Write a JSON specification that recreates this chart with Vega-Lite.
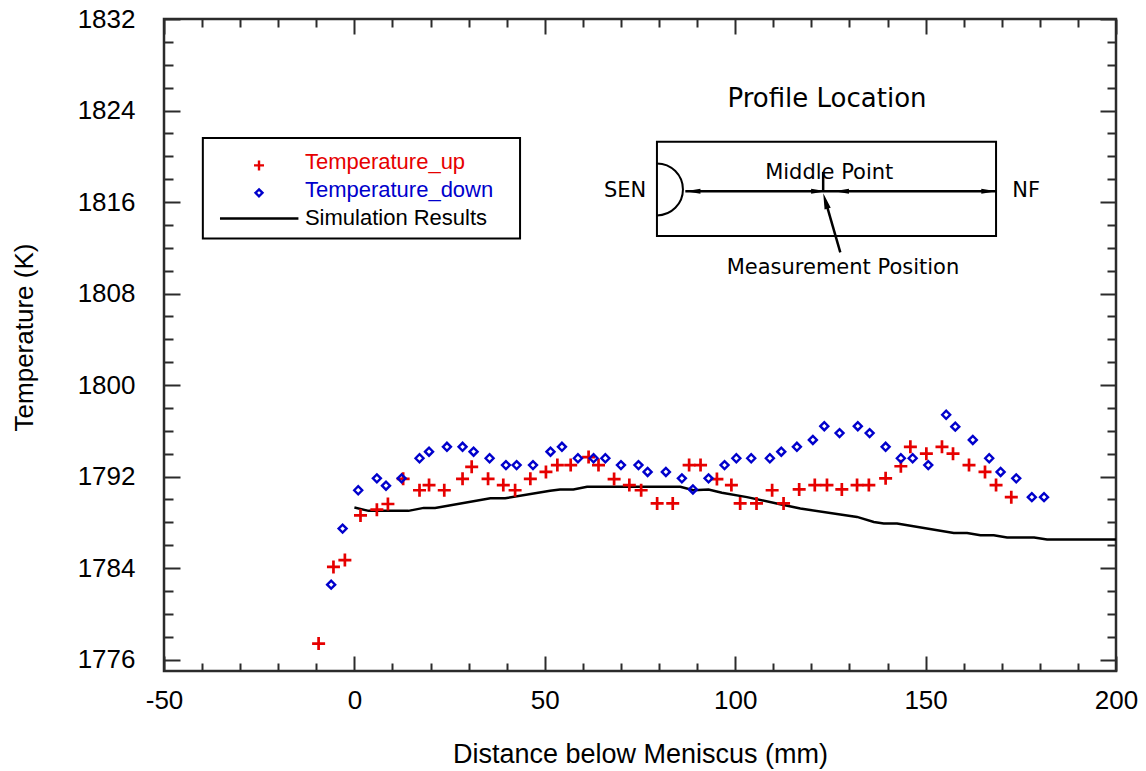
{
  "$schema": "https://vega.github.io/schema/vega-lite/v6.json",
  "width": 952,
  "height": 652,
  "autosize": {"type": "none"},
  "padding": {"left": 164, "top": 19, "right": 30, "bottom": 100},
  "background": "white",
  "config": {"view": {"stroke": "#2b2b2b", "strokeWidth": 2.5}, "axis": {"grid": false}},
  "resolve": {"axis": {"x": "independent", "y": "independent"}},
  "datasets": {
    "up": [
      {"x": -9.4, "y": 1777.4}, {"x": -5.5, "y": 1784.1}, {"x": -2.5, "y": 1784.7}, {"x": 1.6, "y": 1788.6},
      {"x": 5.9, "y": 1789.1}, {"x": 8.8, "y": 1789.6}, {"x": 12.8, "y": 1791.8}, {"x": 17.1, "y": 1790.8},
      {"x": 19.6, "y": 1791.25}, {"x": 23.6, "y": 1790.8}, {"x": 28.4, "y": 1791.8}, {"x": 30.8, "y": 1792.85},
      {"x": 35.1, "y": 1791.8}, {"x": 39.1, "y": 1791.25}, {"x": 42.2, "y": 1790.8}, {"x": 46.2, "y": 1791.8},
      {"x": 50.3, "y": 1792.4}, {"x": 53.3, "y": 1793.0}, {"x": 56.8, "y": 1793.0}, {"x": 61.5, "y": 1793.7},
      {"x": 64.1, "y": 1793.0}, {"x": 68.2, "y": 1791.78}, {"x": 72.2, "y": 1791.25}, {"x": 75.3, "y": 1790.8},
      {"x": 79.5, "y": 1789.65}, {"x": 83.6, "y": 1789.65}, {"x": 87.9, "y": 1793.0}, {"x": 90.9, "y": 1793.0},
      {"x": 95.2, "y": 1791.78}, {"x": 99.0, "y": 1791.25}, {"x": 101.3, "y": 1789.65}, {"x": 105.6, "y": 1789.65},
      {"x": 109.7, "y": 1790.8}, {"x": 112.7, "y": 1789.65}, {"x": 116.8, "y": 1790.87}, {"x": 120.9, "y": 1791.25},
      {"x": 124.1, "y": 1791.25}, {"x": 128.0, "y": 1790.87}, {"x": 132.0, "y": 1791.25}, {"x": 135.1, "y": 1791.25},
      {"x": 139.5, "y": 1791.84}, {"x": 143.5, "y": 1792.9}, {"x": 146.0, "y": 1794.6}, {"x": 150.2, "y": 1794.0},
      {"x": 154.3, "y": 1794.6}, {"x": 157.2, "y": 1794.0}, {"x": 161.4, "y": 1793.0}, {"x": 165.6, "y": 1792.4},
      {"x": 168.5, "y": 1791.25}, {"x": 172.5, "y": 1790.2}
    ],
    "down": [
      {"x": -6.1, "y": 1782.55}, {"x": -3.1, "y": 1787.45}, {"x": 1.0, "y": 1790.8}, {"x": 5.9, "y": 1791.84},
      {"x": 8.3, "y": 1791.2}, {"x": 12.4, "y": 1791.84}, {"x": 17.1, "y": 1793.6}, {"x": 19.6, "y": 1794.17},
      {"x": 24.3, "y": 1794.6}, {"x": 28.4, "y": 1794.6}, {"x": 31.3, "y": 1794.17}, {"x": 35.5, "y": 1793.6},
      {"x": 39.8, "y": 1793.0}, {"x": 42.6, "y": 1793.0}, {"x": 46.9, "y": 1793.0}, {"x": 51.5, "y": 1794.17},
      {"x": 54.5, "y": 1794.6}, {"x": 58.7, "y": 1793.6}, {"x": 62.8, "y": 1793.6}, {"x": 65.9, "y": 1793.6},
      {"x": 70.0, "y": 1793.0}, {"x": 74.6, "y": 1793.0}, {"x": 77.0, "y": 1792.4}, {"x": 81.8, "y": 1792.4},
      {"x": 86.0, "y": 1791.84}, {"x": 88.9, "y": 1790.87}, {"x": 93.0, "y": 1791.84}, {"x": 97.2, "y": 1793.0},
      {"x": 100.3, "y": 1793.6}, {"x": 104.2, "y": 1793.6}, {"x": 109.1, "y": 1793.6}, {"x": 112.1, "y": 1794.17},
      {"x": 116.2, "y": 1794.6}, {"x": 120.4, "y": 1795.2}, {"x": 123.4, "y": 1796.4}, {"x": 127.4, "y": 1795.8},
      {"x": 132.2, "y": 1796.4}, {"x": 135.3, "y": 1795.8}, {"x": 139.5, "y": 1794.6}, {"x": 143.5, "y": 1793.6},
      {"x": 146.6, "y": 1793.6}, {"x": 150.7, "y": 1793.0}, {"x": 155.4, "y": 1797.4}, {"x": 157.8, "y": 1796.36},
      {"x": 162.4, "y": 1795.2}, {"x": 166.7, "y": 1793.6}, {"x": 169.7, "y": 1792.4}, {"x": 173.8, "y": 1791.84},
      {"x": 177.9, "y": 1790.2}, {"x": 181.1, "y": 1790.2}
    ],
    "sim": [
      {"x": 0, "y": 1789.3}, {"x": 3.7, "y": 1789.0}, {"x": 14.2, "y": 1789.0}, {"x": 18.2, "y": 1789.26},
      {"x": 21.2, "y": 1789.26}, {"x": 35.7, "y": 1790.1}, {"x": 39.6, "y": 1790.1}, {"x": 51.4, "y": 1790.75},
      {"x": 54.0, "y": 1790.87}, {"x": 57.5, "y": 1790.87}, {"x": 61.1, "y": 1791.1}, {"x": 85.6, "y": 1791.1},
      {"x": 89.0, "y": 1790.8}, {"x": 93.0, "y": 1790.87}, {"x": 96.5, "y": 1790.58}, {"x": 103.1, "y": 1790.2},
      {"x": 111.8, "y": 1789.58}, {"x": 117.1, "y": 1789.2}, {"x": 132.0, "y": 1788.47}, {"x": 136.4, "y": 1788.03},
      {"x": 139.0, "y": 1787.9}, {"x": 142.5, "y": 1787.9}, {"x": 157.4, "y": 1787.07}, {"x": 160.9, "y": 1787.07},
      {"x": 164.4, "y": 1786.87}, {"x": 167.9, "y": 1786.87}, {"x": 171.4, "y": 1786.67}, {"x": 178.5, "y": 1786.67},
      {"x": 181.9, "y": 1786.49}, {"x": 200, "y": 1786.49}
    ],
    "boxes": [
      {"name": "legend", "x": -39.8, "x2": 43.5, "y": 1812.8, "y2": 1821.6},
      {"name": "inset", "x": 79.45, "x2": 168.5, "y": 1813.03, "y2": 1821.26}
    ],
    "legendText": [
      {"series": "Temperature_up", "x": -13.0, "y": 1818.93},
      {"series": "Temperature_down", "x": -13.0, "y": 1816.45},
      {"series": "Simulation Results", "x": -13.0, "y": 1814.03}
    ],
    "legendMarks": [
      {"series": "Temperature_up", "x": -25.05, "y": 1819.2},
      {"series": "Temperature_down", "x": -25.05, "y": 1816.8}
    ],
    "segments": [
      {"seg": "legendLine", "x": -35.3, "y": 1814.56}, {"seg": "legendLine", "x": -14.7, "y": 1814.56},
      {"seg": "profile", "x": 86.9, "y": 1816.95}, {"seg": "profile", "x": 168.5, "y": 1816.95},
      {"seg": "middle", "x": 123.1, "y": 1816.95}, {"seg": "middle", "x": 123.1, "y": 1818.63},
      {"seg": "measure", "x": 127.6, "y": 1811.6}, {"seg": "measure", "x": 123.7, "y": 1816.1}
    ],
    "arrows": [
      {"dir": "left", "x": 88.9, "y": 1816.95},
      {"dir": "right", "x": 166.6, "y": 1816.95},
      {"dir": "right", "x": 121.9, "y": 1816.95},
      {"dir": "left", "x": 127.9, "y": 1816.95},
      {"dir": "up", "x": 123.7, "y": 1816.1}
    ],
    "sen": [{"x": 79.45, "y": 1817.1}],
    "insetTitle": [{"text": "Profile Location", "x": 124.1, "y": 1824.27}],
    "insetLabels": [
      {"text": "Middle Point", "x": 124.7, "y": 1817.97},
      {"text": "SEN", "x": 71.1, "y": 1816.45},
      {"text": "NF", "x": 176.4, "y": 1816.45},
      {"text": "Measurement Position", "x": 128.3, "y": 1809.68}
    ]
  },
  "layer": [
    {
      "data": {"name": "sim"},
      "mark": {"type": "line", "color": "black", "strokeWidth": 2.5},
      "encoding": {
        "x": {"field": "x", "type": "quantitative", "scale": {"domain": [-50, 200], "nice": false, "zero": false},
          "axis": {"orient": "bottom", "values": [-40, -30, -20, -10, 10, 20, 30, 40, 60, 70, 80, 90, 110, 120, 130, 140, 160, 170, 180, 190], "labels": false, "domain": false, "grid": false, "title": null, "tickSize": -8, "tickWidth": 2, "tickColor": "#2b2b2b"}},
        "y": {"field": "y", "type": "quantitative", "scale": {"domain": [1775, 1832], "nice": false, "zero": false},
          "axis": {"orient": "left", "values": [1778, 1780, 1782, 1786, 1788, 1790, 1794, 1796, 1798, 1802, 1804, 1806, 1810, 1812, 1814, 1818, 1820, 1822, 1826, 1828, 1830], "labels": false, "domain": false, "grid": false, "title": null, "tickSize": -9, "tickWidth": 2, "tickColor": "#2b2b2b"}}
      }
    },
    {
      "data": {"name": "up"},
      "mark": {"type": "point", "shape": "M-1,0L1,0M0,-1L0,1", "filled": false, "color": "#e60000", "strokeWidth": 2.7, "size": 169, "opacity": 1},
      "encoding": {
        "x": {"field": "x", "type": "quantitative", "scale": {"domain": [-50, 200], "nice": false, "zero": false},
          "axis": {"orient": "bottom", "values": [-50, 0, 50, 100, 150, 200], "labelExpr": "'' + datum.value", "ticks": false, "tickSize": 0, "domain": false, "grid": false,
            "labelFont": "Liberation Sans", "labelFontSize": 26, "labelColor": "black", "labelPadding": 37.5, "labelBaseline": "alphabetic", "labelFlush": false, "labelOverlap": false,
            "title": "Distance below Meniscus (mm)", "titleFont": "Liberation Sans", "titleFontSize": 27, "titleFontWeight": "normal", "titleColor": "black", "titleBaseline": "alphabetic", "titleY": 91}},
        "y": {"field": "y", "type": "quantitative", "scale": {"domain": [1775, 1832], "nice": false, "zero": false},
          "axis": {"orient": "left", "values": [1776, 1784, 1792, 1800, 1808, 1816, 1824, 1832], "labelExpr": "'' + datum.value", "ticks": false, "tickSize": 0, "domain": false, "grid": false,
            "labelFont": "Liberation Sans", "labelFontSize": 26, "labelColor": "black", "labelPadding": 29, "labelFlush": false, "labelOverlap": false,
            "title": "Temperature (K)", "titleFont": "Liberation Sans", "titleFontSize": 26, "titleFontWeight": "normal", "titleColor": "black", "titleBaseline": "alphabetic", "titleX": -132, "titleY": 318}}
      }
    },
    {
      "data": {"name": "down"},
      "mark": {"type": "point", "shape": "diamond", "filled": false, "color": "#0000cc", "strokeWidth": 2.4, "size": 64, "opacity": 1},
      "encoding": {
        "x": {"field": "x", "type": "quantitative", "scale": {"domain": [-50, 200], "nice": false, "zero": false},
          "axis": {"orient": "bottom", "values": [-50, 0, 50, 100, 150, 200], "labels": false, "domain": false, "grid": false, "title": null, "tickSize": -15, "tickWidth": 2, "tickColor": "#2b2b2b"}},
        "y": {"field": "y", "type": "quantitative", "scale": {"domain": [1775, 1832], "nice": false, "zero": false},
          "axis": {"orient": "left", "values": [1776, 1784, 1792, 1800, 1808, 1816, 1824, 1832], "labels": false, "domain": false, "grid": false, "title": null, "tickSize": -16, "tickWidth": 2, "tickColor": "#2b2b2b"}}
      }
    },
    {
      "data": {"name": "boxes"},
      "mark": {"type": "rect", "fill": "white", "stroke": "black", "strokeWidth": 2},
      "encoding": {
        "x": {"field": "x", "type": "quantitative", "scale": {"domain": [-50, 200], "nice": false, "zero": false},
          "axis": {"orient": "top", "values": [-50, 0, 50, 100, 150, 200], "labels": false, "domain": false, "grid": false, "title": null, "tickSize": -15, "tickWidth": 2, "tickColor": "#2b2b2b"}},
        "x2": {"field": "x2"},
        "y": {"field": "y", "type": "quantitative", "scale": {"domain": [1775, 1832], "nice": false, "zero": false},
          "axis": {"orient": "right", "values": [1776, 1784, 1792, 1800, 1808, 1816, 1824, 1832], "labels": false, "domain": false, "grid": false, "title": null, "tickSize": -16, "tickWidth": 2, "tickColor": "#2b2b2b"}},
        "y2": {"field": "y2"}
      }
    },
    {
      "data": {"name": "legendText"},
      "mark": {"type": "text", "font": "Liberation Sans", "fontSize": 22, "align": "left", "baseline": "alphabetic"},
      "encoding": {
        "x": {"field": "x", "type": "quantitative", "scale": {"domain": [-50, 200], "nice": false, "zero": false},
          "axis": {"orient": "top", "values": [-40, -30, -20, -10, 10, 20, 30, 40, 60, 70, 80, 90, 110, 120, 130, 140, 160, 170, 180, 190], "labels": false, "domain": false, "grid": false, "title": null, "tickSize": -8, "tickWidth": 2, "tickColor": "#2b2b2b"}},
        "y": {"field": "y", "type": "quantitative", "scale": {"domain": [1775, 1832], "nice": false, "zero": false},
          "axis": {"orient": "right", "values": [1778, 1780, 1782, 1786, 1788, 1790, 1794, 1796, 1798, 1802, 1804, 1806, 1810, 1812, 1814, 1818, 1820, 1822, 1826, 1828, 1830], "labels": false, "domain": false, "grid": false, "title": null, "tickSize": -9, "tickWidth": 2, "tickColor": "#2b2b2b"}},
        "text": {"field": "series"},
        "color": {"field": "series", "type": "nominal", "scale": {"domain": ["Temperature_up", "Temperature_down", "Simulation Results"], "range": ["#e60000", "#0000cc", "black"]}, "legend": null}
      }
    },
    {
      "data": {"name": "legendMarks"},
      "mark": {"type": "point", "filled": false, "strokeWidth": 2.4, "size": 100, "opacity": 1},
      "encoding": {
        "x": {"field": "x", "type": "quantitative", "axis": null},
        "y": {"field": "y", "type": "quantitative", "axis": null},
        "shape": {"field": "series", "type": "nominal", "scale": {"domain": ["Temperature_up", "Temperature_down"], "range": ["M-1,0L1,0M0,-1L0,1", "M0,-0.7L0.7,0L0,0.7L-0.7,0Z"]}, "legend": null},
        "color": {"field": "series", "type": "nominal", "scale": {"domain": ["Temperature_up", "Temperature_down", "Simulation Results"], "range": ["#e60000", "#0000cc", "black"]}, "legend": null}
      }
    },
    {
      "data": {"name": "segments"},
      "mark": {"type": "line", "color": "black", "strokeWidth": 2.5},
      "encoding": {
        "x": {"field": "x", "type": "quantitative", "axis": null},
        "y": {"field": "y", "type": "quantitative", "axis": null},
        "detail": {"field": "seg", "type": "nominal"}
      }
    },
    {
      "data": {"name": "arrows"},
      "transform": [{"filter": "datum.dir === 'left'"}],
      "mark": {"type": "point", "shape": "M-1,0L1,-0.33L1,0.33Z", "filled": true, "color": "black", "size": 225, "opacity": 1},
      "encoding": {
        "x": {"field": "x", "type": "quantitative", "axis": null},
        "y": {"field": "y", "type": "quantitative", "axis": null}
      }
    },
    {
      "data": {"name": "arrows"},
      "transform": [{"filter": "datum.dir === 'right'"}],
      "mark": {"type": "point", "shape": "M1,0L-1,-0.33L-1,0.33Z", "filled": true, "color": "black", "size": 225, "opacity": 1},
      "encoding": {
        "x": {"field": "x", "type": "quantitative", "axis": null},
        "y": {"field": "y", "type": "quantitative", "axis": null}
      }
    },
    {
      "data": {"name": "arrows"},
      "transform": [{"filter": "datum.dir === 'up'"}],
      "mark": {"type": "point", "shape": "M0,-1L0.4,1L-0.4,1Z", "angle": -16, "filled": true, "color": "black", "size": 256, "opacity": 1},
      "encoding": {
        "x": {"field": "x", "type": "quantitative", "axis": null},
        "y": {"field": "y", "type": "quantitative", "axis": null}
      }
    },
    {
      "data": {"name": "sen"},
      "mark": {"type": "point", "shape": "M0,-1A1,1 0 0 1 0,1", "filled": false, "color": "black", "strokeWidth": 2, "size": 2704, "opacity": 1},
      "encoding": {
        "x": {"field": "x", "type": "quantitative", "axis": null},
        "y": {"field": "y", "type": "quantitative", "axis": null}
      }
    },
    {
      "data": {"name": "insetTitle"},
      "mark": {"type": "text", "font": "DejaVu Sans", "fontSize": 26, "align": "center", "baseline": "alphabetic", "color": "black"},
      "encoding": {
        "x": {"field": "x", "type": "quantitative", "axis": null},
        "y": {"field": "y", "type": "quantitative", "axis": null},
        "text": {"field": "text"}
      }
    },
    {
      "data": {"name": "insetLabels"},
      "mark": {"type": "text", "font": "DejaVu Sans", "fontSize": 21, "align": "center", "baseline": "alphabetic", "color": "black"},
      "encoding": {
        "x": {"field": "x", "type": "quantitative", "axis": null},
        "y": {"field": "y", "type": "quantitative", "axis": null},
        "text": {"field": "text"}
      }
    }
  ]
}
